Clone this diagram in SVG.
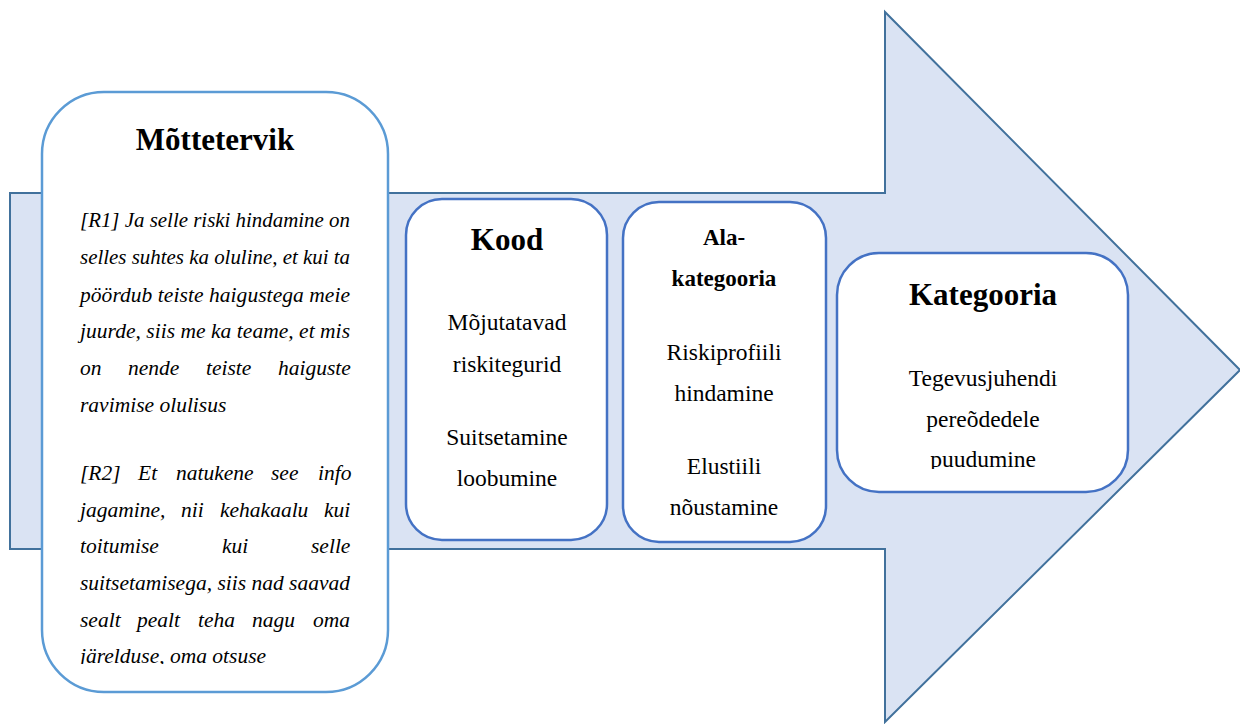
<svg xmlns="http://www.w3.org/2000/svg" width="1240" height="724" viewBox="0 0 1240 724">
  <style>
    .arrow { fill: #dae3f3; stroke: #41719c; stroke-width: 2; }
    .box { fill: #ffffff; stroke: #4472c4; stroke-width: 2.5; }
    .box-light { fill: #ffffff; stroke: #5b9bd5; stroke-width: 2.5; }
    text { font-family: "Liberation Serif", Tinos, "Times New Roman", Times, "Nimbus Roman", "DejaVu Serif", serif; fill: #000; }
    .title { font-weight: bold; font-size: 31px; text-anchor: middle; }
    .subtitle { font-weight: bold; font-size: 23px; text-anchor: middle; }
    .body { font-size: 23.5px; text-anchor: middle; }
    .quote { font-style: italic; font-size: 21.5px; }
  </style>
  <defs>
    <clipPath id="clip-quotes"><rect x="60" y="180" width="310" height="484"/></clipPath>
    <clipPath id="clip-kategooria"><rect x="850" y="260" width="270" height="209"/></clipPath>
  </defs>

  <rect width="1240" height="724" fill="#ffffff"/>

  <!-- background block arrow -->
  <g id="connectors">
    <path class="arrow" d="M10,193 L885,193 L885,12 L1240,370 L885,722 L885,549 L10,549 Z"/>
  </g>

  <!-- Mõttetervik -->
  <g id="node-mottetervik">
    <rect class="box-light" x="42" y="92" width="346" height="600" rx="62" ry="62"/>
    <text class="title" x="215" y="150">Mõttetervik</text>
    <g clip-path="url(#clip-quotes)">
      <text class="quote" x="80" y="227" textLength="270" lengthAdjust="spacingAndGlyphs">[R1] Ja selle riski hindamine on</text>
      <text class="quote" x="80" y="264" textLength="270" lengthAdjust="spacingAndGlyphs">selles suhtes ka oluline, et kui ta</text>
      <text class="quote" x="80" y="302" textLength="270" lengthAdjust="spacing">pöördub teiste haigustega meie</text>
      <text class="quote" x="80" y="338" textLength="270" lengthAdjust="spacing">juurde, siis me ka teame, et mis</text>
      <text class="quote" y="375"><tspan x="80">on</tspan><tspan x="128">nende</tspan><tspan x="206">teiste</tspan><tspan x="278">haiguste</tspan></text>
      <text class="quote" x="80" y="412">ravimise olulisus</text>
      <text class="quote" y="480"><tspan x="80">[R2]</tspan><tspan x="138">Et</tspan><tspan x="176">natukene</tspan><tspan x="271">see</tspan><tspan x="318">info</tspan></text>
      <text class="quote" y="517"><tspan x="80">jagamine,</tspan><tspan x="181">nii</tspan><tspan x="220">kehakaalu</tspan><tspan x="324">kui</tspan></text>
      <text class="quote" y="553"><tspan x="80">toitumise</tspan><tspan x="222">kui</tspan><tspan x="311">selle</tspan></text>
      <text class="quote" x="80" y="590" textLength="270" lengthAdjust="spacing">suitsetamisega, siis nad saavad</text>
      <text class="quote" y="627"><tspan x="80">sealt</tspan><tspan x="137">pealt</tspan><tspan x="198">teha</tspan><tspan x="252">nagu</tspan><tspan x="313">oma</tspan></text>
      <text class="quote" x="80" y="663">järelduse, oma otsuse</text>
    </g>
  </g>

  <!-- Kood -->
  <g id="node-kood">
    <rect class="box" x="406" y="199" width="201" height="341" rx="36" ry="36"/>
    <text class="title" x="507" y="250">Kood</text>
    <text class="body" x="507" y="330">Mõjutatavad</text>
    <text class="body" x="507" y="372">riskitegurid</text>
    <text class="body" x="507" y="445">Suitsetamine</text>
    <text class="body" x="507" y="486">loobumine</text>
  </g>

  <!-- Ala-kategooria -->
  <g id="node-alakategooria">
    <rect class="box" x="623" y="202" width="203" height="340" rx="36" ry="36"/>
    <text class="subtitle" x="724" y="245">Ala-</text>
    <text class="subtitle" x="724" y="286">kategooria</text>
    <text class="body" x="724" y="360">Riskiprofiili</text>
    <text class="body" x="724" y="401">hindamine</text>
    <text class="body" x="724" y="474">Elustiili</text>
    <text class="body" x="724" y="515">nõustamine</text>
  </g>

  <!-- Kategooria -->
  <g id="node-kategooria">
    <rect class="box" x="837" y="253" width="291" height="239" rx="42" ry="42"/>
    <text class="title" x="983" y="305">Kategooria</text>
    <g clip-path="url(#clip-kategooria)">
      <text class="body" x="983" y="386">Tegevusjuhendi</text>
      <text class="body" x="983" y="427">pereõdedele</text>
      <text class="body" x="983" y="467">puudumine</text>
    </g>
  </g>
</svg>
